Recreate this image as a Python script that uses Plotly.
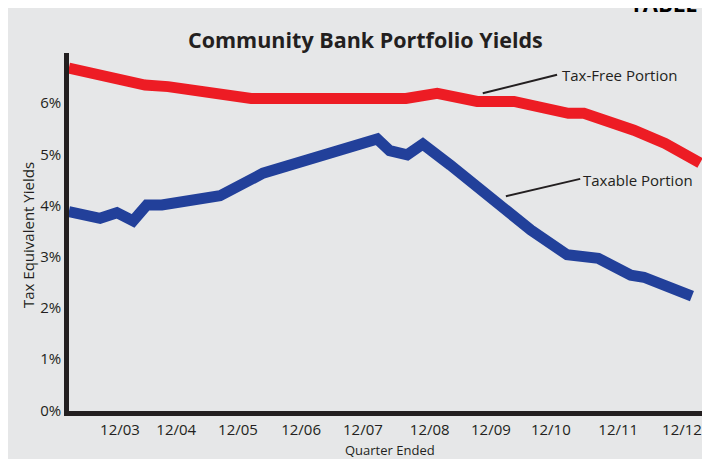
import plotly.graph_objects as go

# ---- data (decimal year of each vertex, yield in %) ----
taxfree_x = [2003.18, 2004.40, 2004.77, 2006.10, 2008.58, 2009.08, 2009.72,
             2010.31, 2011.18, 2011.43, 2012.23, 2012.73, 2013.29]
taxfree_y = [6.68, 6.35, 6.32, 6.09, 6.09, 6.19, 6.03, 6.03, 5.80, 5.80,
             5.47, 5.21, 4.83]

taxable_x = [2003.18, 2003.68, 2003.95, 2004.21, 2004.43, 2004.67, 2005.60,
             2006.29, 2008.12, 2008.32, 2008.60, 2008.85, 2009.29, 2010.58,
             2011.16, 2011.66, 2012.18, 2012.39, 2013.16]
taxable_y = [3.88, 3.75, 3.86, 3.70, 4.01, 4.01, 4.19, 4.63, 5.30, 5.07,
             4.99, 5.20, 4.79, 3.52, 3.04, 2.97, 2.64, 2.60, 2.23]

tick_pos = [2004.0, 2004.9, 2005.89, 2006.9, 2007.89, 2008.96, 2009.94,
            2010.9, 2011.98, 2013.0]
tick_labels = ["12/03", "12/04", "12/05", "12/06", "12/07", "12/08", "12/09",
               "12/10", "12/11", "12/12"]
y_ticks = [0, 1, 2, 3, 4, 5, 6]

# the page body adds an 8px margin around the figure
OFF = 8
W, H = 698, 451
L, R, T, B = 61, 1, 45, 48
PW, PH = W - L - R, H - T - B


def px(x_page):
    return (x_page - OFF - L) / PW


def py(y_page):
    return (H - B - (y_page - OFF)) / PH


BG = "#E6E7E8"
INK = "#231F20"
FONT = "Open Sans"

fig = go.Figure()
fig.add_trace(go.Scatter(x=taxfree_x, y=taxfree_y, mode="lines",
                         line=dict(color="#ED1C24", width=11),
                         name="Tax-Free Portion", hoverinfo="skip"))
fig.add_trace(go.Scatter(x=taxable_x, y=taxable_y, mode="lines",
                         line=dict(color="#22409A", width=11),
                         name="Taxable Portion", hoverinfo="skip"))

# leader lines
fig.add_shape(type="line", xref="x", yref="y", x0=2009.81, y0=6.19,
              x1=2011.0, y1=6.55, line=dict(color=INK, width=2))
fig.add_shape(type="line", xref="x", yref="y", x0=2010.18, y0=4.18,
              x1=2011.37, y1=4.52, line=dict(color=INK, width=2))

fig.add_annotation(text="Tax-Free Portion", xref="x", yref="y",
                   x=2011.05, y=6.54, xanchor="left", yanchor="middle",
                   showarrow=False, font=dict(family=FONT, size=15, color=INK))
fig.add_annotation(text="Taxable Portion", xref="x", yref="y",
                   x=2011.39, y=4.50, xanchor="left", yanchor="middle",
                   showarrow=False, font=dict(family=FONT, size=15, color=INK))

fig.add_annotation(text="<b>Community Bank Portfolio Yields</b>",
                   xref="paper", yref="paper", x=px(365), y=py(40),
                   xanchor="center", yanchor="middle", showarrow=False,
                   font=dict(family=FONT, size=21.5, color=INK))
fig.add_annotation(text="Tax Equivalent Yields", xref="paper", yref="paper",
                   x=px(28), y=py(235), textangle=-90, xanchor="center",
                   yanchor="middle", showarrow=False,
                   font=dict(family=FONT, size=15, color=INK))
fig.add_annotation(text="Quarter Ended", xref="paper", yref="paper",
                   x=px(390), y=py(450), xanchor="center", yanchor="middle",
                   showarrow=False, font=dict(family=FONT, size=13, color=INK))
fig.add_annotation(text="<b>TABLE 4</b>", xref="paper", yref="paper",
                   x=px(628), y=py(20), xanchor="left", yanchor="bottom",
                   showarrow=False, font=dict(family=FONT, size=22, color="black"))

fig.update_layout(
    width=W, height=H,
    margin=dict(l=L, r=R, t=T, b=B, pad=0),
    paper_bgcolor=BG, plot_bgcolor=BG,
    showlegend=False,
    font=dict(family=FONT, size=15, color=INK),
)
fig.update_xaxes(range=[2003.183, 2013.369], tickvals=tick_pos,
                 ticktext=tick_labels, showgrid=False, zeroline=False,
                 showline=True, linewidth=4.5, linecolor=INK, ticks="",
                 ticklabelstandoff=1,
                 tickfont=dict(family=FONT, size=15, color=INK),
                 fixedrange=True)
fig.update_yaxes(range=[-0.01, 6.976], tickvals=y_ticks,
                 ticktext=[f"{v}%" for v in y_ticks], showgrid=False,
                 zeroline=False, showline=True, linewidth=4.5, linecolor=INK,
                 ticks="", tickfont=dict(family=FONT, size=15, color=INK),
                 fixedrange=True)

fig.write_html("out.html")
